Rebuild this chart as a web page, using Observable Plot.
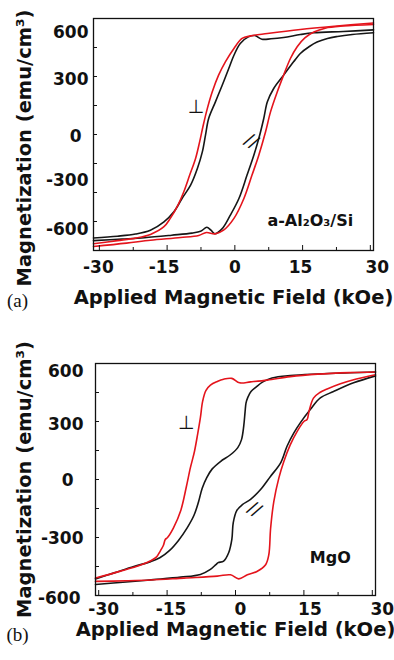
<!DOCTYPE html>
<html><head><meta charset="utf-8">
<script src="https://cdn.jsdelivr.net/npm/d3@7"></script>
<script src="https://cdn.jsdelivr.net/npm/@observablehq/plot@0.6"></script>
<style>
body{margin:0;background:#fff;}
#chart svg{display:block;background:#fff;}
</style></head><body><div id="chart"></div>
<script>
// ---------- shared axis data ----------
const yTicks = [-600, -300, 0, 300, 600];
const yMinorTicks = [-450, -150, 150, 450];
const xTicks = [-30, -15, 0, 15, 30];
const xMinorTicks = [-22.5, -7.5, 7.5, 22.5];
const xTitle = "Applied Magnetic Field (kOe)";
const yTitle = "Magnetization (emu/cm³)";

// ---------- panel (a): a-Al2O3/Si  [field kOe, magnetization emu/cm3] ----------
const alBlackDown = [[30.7,541],[24,533],[17.5,526],[14.5,517],[10.8,502],[8,495],[6.0,493],[4.4,512],[3.0,505],[1.2,471],[-0.2,410],[-1.35,341],[-2.8,255],[-4.3,169],[-5.8,83],[-6.5,-3],[-7.2,-90],[-8.3,-176],[-9.8,-262],[-11.7,-331],[-13.5,-400],[-15.7,-452],[-18.7,-495],[-22,-515],[-26,-526],[-31.3,-535]];
const alBlackUp = [[-31.3,-549],[-25,-541],[-20,-534],[-14,-521],[-9.5,-510],[-7.6,-501],[-6.2,-480],[-5.3,-495],[-4.4,-513],[-2.8,-487],[-1.0,-417],[0.9,-331],[2.7,-210],[4.2,-107],[5.3,-21],[6.4,83],[7.2,169],[8.6,238],[10.8,307],[13.0,376],[14.5,419],[16.5,455],[18.2,478],[20.5,497],[22.7,507],[26,517],[30.7,526]];
const alRedDown = [[30.7,577],[22,560],[14.5,543],[7.2,522],[3.5,510],[1.6,497],[-0.2,445],[-2.1,376],[-3.6,307],[-5.0,221],[-6.1,134],[-7.0,48],[-7.8,-38],[-8.7,-124],[-10.0,-210],[-11.3,-296],[-12.6,-365],[-14.3,-434],[-15.7,-477],[-18.7,-517],[-22,-536],[-26,-549],[-31.3,-565]];
const alRedUp = [[-31.3,-579],[-24,-562],[-18.7,-547],[-12,-533],[-8,-522],[-6.3,-507],[-4.4,-514],[-2.5,-495],[-0.2,-434],[2.0,-331],[3.8,-210],[5.3,-107],[6.8,14],[7.9,117],[9.4,221],[10.8,307],[12.3,393],[13.8,454],[15.5,500],[17.5,530],[20,550],[24,561],[30.7,569]];
const alNotes = [
  {x: -8.6, y: 142, text: "⊥", kind: "perp"},
  {x: 3.7, y: -34, text: "//", kind: "par"},
  {x: 16.7, y: -445, text: "a-Al₂O₃/Si", kind: "name"}
];

// ---------- panel (b): MgO ----------
const mgoBlackDown = [[30.7,556],[25,552],[18,546],[12,538],[8,525],[6.0,505],[4.5,478],[3.4,455],[2.7,425],[2.3,395],[2.1,350],[1.8,275],[1.3,205],[0.5,165],[-1.1,128],[-3.3,93],[-5.1,55],[-6.3,10],[-7.3,-45],[-8.1,-115],[-9.1,-185],[-10.6,-250],[-12.5,-315],[-14.5,-368],[-16.6,-405],[-18.6,-425],[-22.3,-450],[-26.6,-483],[-30.7,-514]];
const mgoBlackUp = [[-30.7,-543],[-24,-530],[-18,-518],[-12,-505],[-7.7,-491],[-5.5,-465],[-4.3,-440],[-3.8,-430],[-2.6,-422],[-1.5,-379],[-0.8,-310],[-0.5,-224],[0.3,-160],[1.5,-130],[3.3,-103],[5.5,-52],[7.7,17],[9.9,86],[11.3,172],[12.8,241],[14.2,293],[16.4,362],[18.6,422],[21.5,455],[25.9,500],[30.7,536]];
const mgoRedDown = [[30.7,556],[25,553],[18,545],[12,532],[7,514],[3.3,505],[0.9,500],[-0.8,523],[-2.6,519],[-4.0,507],[-5.5,488],[-6.5,460],[-7.2,405],[-7.7,320],[-8.3,235],[-9.0,145],[-9.9,60],[-10.8,-40],[-12.0,-160],[-13.6,-250],[-14.9,-300],[-15.4,-310],[-15.8,-340],[-16.5,-370],[-17.3,-400],[-18.6,-420],[-20.8,-442],[-25.2,-474],[-30.7,-510]];
const mgoRedUp = [[-30.7,-527],[-24,-524],[-18.6,-520],[-11.3,-510],[-4,-500],[-1.1,-493],[0.7,-514],[2.6,-493],[4.7,-476],[6.6,-441],[7.3,-390],[7.7,-252],[8.4,-114],[9.5,7],[10.6,93],[12.0,179],[13.5,248],[15.0,300],[15.7,310],[16.1,350],[17.1,421],[18.5,450],[20.1,468],[23,495],[26.5,520],[30.7,542]];
const mgoNotes = [
  {x: -10.8, y: 295, text: "⊥", kind: "perp"},
  {x: 4.2, y: -153, text: "//", kind: "par"},
  {x: 20.8, y: -403, text: "MgO", kind: "name"}
];

// ---------- rendering ----------
const FONT = "DejaVu Sans";
const BLACK = "#161616";
const RED = "#e4141c";
const INK = "#111";

const rows = (branches) => branches.flatMap(([name, pts]) => pts.map(([x, y]) => ({x, y, branch: name})));

function label(axis, vals, opts) {
  return axis(vals, {tickSize: 0, label: null, tickFormat: d => String(d),
    fontSize: 17, fontWeight: "bold", fontFamily: FONT, fill: INK, ...opts});
}

function panel(cfg) {
  const black = rows([["down", cfg.blackDown], ["up", cfg.blackUp]]);
  const red = rows([["down", cfg.redDown], ["up", cfg.redUp]]);
  return Plot.plot({
    width: 394, height: 330,
    marginLeft: cfg.mL, marginRight: cfg.mR, marginTop: cfg.mT, marginBottom: cfg.mB,
    style: {background: "#fff", color: INK, overflow: "visible"},
    x: {domain: cfg.xDomain, axis: null},
    y: {domain: [-600, 600], axis: null},
    marks: [
      Plot.line(black, {x: "x", y: "y", z: "branch", stroke: BLACK, strokeWidth: 1.6, curve: "catmull-rom"}),
      Plot.line(red, {x: "x", y: "y", z: "branch", stroke: RED, strokeWidth: 1.6, curve: "catmull-rom"}),
      Plot.frame({stroke: INK, strokeWidth: 1.3}),
      Plot.axisY(yMinorTicks.concat(yTicks), {tickSize: -4, fill: "none", label: null, stroke: INK}),
      Plot.axisX(xTicks, {tickSize: -5, fill: "none", label: null, stroke: INK}),
      Plot.axisX(xMinorTicks, {tickSize: -3, fill: "none", label: null, stroke: INK}),
      ...cfg.yLabels.map(([v, pad, dy]) => label(Plot.axisY, [v], {tickPadding: pad, dy})),
      ...cfg.xLabels.map(([v, dx]) => label(Plot.axisX, [v], {tickPadding: cfg.xPad, dx})),
      // annotations
      Plot.text(cfg.notes.filter(d => d.kind === "perp"), {x: "x", y: "y", text: "text", fontSize: 19, fontFamily: FONT, fill: INK}),
      Plot.text(cfg.notes.filter(d => d.kind === "par"), {x: "x", y: "y", text: "text", fontSize: 18, fontFamily: FONT, rotate: 32, fill: INK}),
      Plot.text(cfg.notes.filter(d => d.kind === "name"), {x: "x", y: "y", text: "text", fontSize: 16, fontWeight: "bold", fontFamily: FONT, fill: INK}),
      // titles
      Plot.text([xTitle], {text: d => d, frameAnchor: "bottom", textAnchor: "middle", lineAnchor: "middle", dy: cfg.xTitleDy, fontSize: 19.5, fontWeight: "bold", fontFamily: FONT, fill: INK}),
      Plot.text([yTitle], {text: d => d, frameAnchor: "left", textAnchor: "middle", lineAnchor: "middle", rotate: -90, dx: cfg.yTitleDx, dy: cfg.yTitleDy, fontSize: 19.5, fontWeight: "bold", fontFamily: FONT, fill: INK}),
      Plot.text([cfg.tag], {text: d => d, frameAnchor: "bottom-left", textAnchor: "middle", lineAnchor: "middle", dx: cfg.tagDx, dy: cfg.tagDy, fontSize: 19, fontFamily: "Liberation Serif", fill: INK})
    ]
  });
}

const chart = document.getElementById("chart");
chart.append(panel({
  blackDown: alBlackDown, blackUp: alBlackUp, redDown: alRedDown, redUp: alRedUp, notes: alNotes,
  xDomain: [-31.3, 30.7], mL: 93, mR: 21, mT: 18, mB: 80,
  yLabels: [[600, 5, 14], [300, 5, 3], [0, 12, 2], [-300, 5, -12], [-600, 5, -21]],
  xLabels: [[-30, -1], [-15, -3], [0, 0], [15, -2], [30, 7]], xPad: 10,
  xTitleDy: 47.5, yTitleDx: -69, yTitleDy: 13.5, tag: "(a)", tagDx: -76, tagDy: 50
}));
chart.append(panel({
  blackDown: mgoBlackDown, blackUp: mgoBlackUp, redDown: mgoRedDown, redUp: mgoRedUp, notes: mgoNotes,
  xDomain: [-30.7, 30.7], mL: 95, mR: 19, mT: 33, mB: 65,
  yLabels: [[600, 12, 8], [300, 12, 3], [0, 22, 1], [-300, 12, 1], [-600, 15, 3]],
  xLabels: [[-30, 5], [-15, 4], [0, 5], [15, 6], [30, 10]], xPad: 7,
  xTitleDy: 34.5, yTitleDx: -71, yTitleDy: 0, tag: "(b)", tagDx: -78, tagDy: 39
}));
</script></body></html>
